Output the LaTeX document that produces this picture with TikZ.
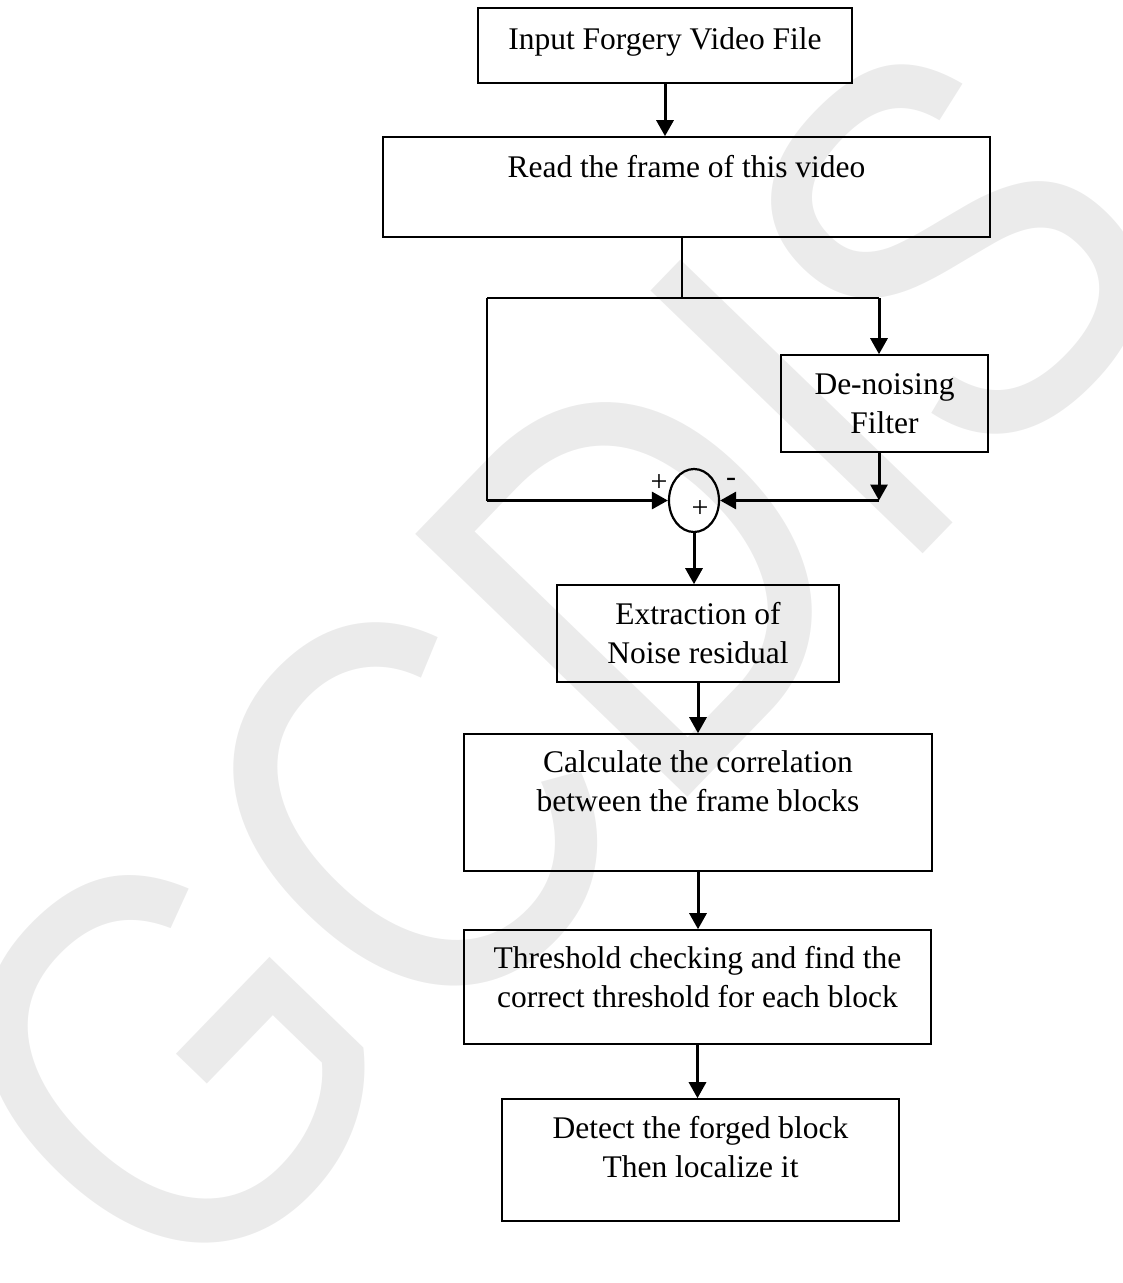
\documentclass[tikz,border=0pt]{standalone}
\usepackage{fontspec}
\setmainfont{Liberation Serif}
\newfontfamily\wmfont{Liberation Sans}
\usetikzlibrary{arrows.meta,shapes.geometric}
\tikzset{
    blk/.style={draw=black, line width=1.6pt, align=center, inner sep=0pt, font=\fontsize{31.5}{39}\selectfont},
    summer/.style={ellipse, draw=black, line width=2.2pt, minimum width=50pt, minimum height=63pt, inner sep=0pt},
    sgn/.style={inner sep=0pt, font=\fontsize{30}{30}\selectfont},
    arr/.style={line width=3pt, -{Triangle[length=16pt,width=17pt]}},
    wire/.style={line width=1.4pt},
    wm/.style={rotate=46, text=black!8, inner sep=0pt, font=\wmfont\fontsize{550}{550}\selectfont}
}
\begin{document}
\begin{tikzpicture}[x=1pt,y=-1pt]
    \useasboundingbox (0,0) rectangle (1123,1283);
    \node[wm] (mark) at (552,665) {\scalebox{0.84}[1]{GCDIS}};

    \node[blk, minimum width=374pt, minimum height=75pt, text depth=14pt] (in) at (665,45.5) {Input Forgery Video File};
    \node[blk, minimum width=607pt, minimum height=100pt] (frame) at (686.5,187) {Read the frame of this video\\[3pt]~};
    \node[blk, minimum width=207pt, minimum height=97pt] (den) at (884.5,403.5) {De-noising\\Filter};
    \node[summer] (sum) at (694,500.5) {};
    \node[sgn] (splus) at (700,509) {+};
    \node[sgn] (plus) at (659,483) {+};
    \node[sgn] (minus) at (731,482) {-};
    \node[blk, minimum width=282pt, minimum height=97pt] (noise) at (698,633.5) {Extraction of\\Noise residual};
    \node[blk, minimum width=468pt, minimum height=137pt] (corr) at (698,802.5) {Calculate the correlation\\between the frame blocks\\[3pt]~};
    \node[blk, minimum width=467pt, minimum height=114pt] (thr) at (697.5,987) {Threshold checking and find the\\correct threshold for each block\\[-19pt]~};
    \node[blk, minimum width=397pt, minimum height=122pt] (det) at (700.5,1160) {Detect the forged block\\Then localize it\\[-12pt]~};

    \coordinate (split) at (682,298);
    \coordinate (lft) at (487,298);
    \coordinate (rgt) at (879,298);

    \draw[arr] (in.south) -- (in.south |- frame.north);
    \draw[wire] (split |- frame.south) -- (split);
    \draw[wire] (lft) -- (rgt);
    \draw[wire] (lft) -- (lft |- sum.west);
    \draw[arr] (lft |- sum.west) -- (sum.west);
    \draw[arr] (rgt) -- (rgt |- den.north);
    \draw[arr] (rgt |- den.south) -- (rgt |- sum.east);
    \draw[arr] (rgt |- sum.east) -- (sum.east);
    \draw[arr] (sum.south) -- (sum.south |- noise.north);
    \draw[arr] (noise.south) -- (noise.south |- corr.north);
    \draw[arr] (corr.south) -- (corr.south |- thr.north);
    \draw[arr] (thr.south) -- (thr.south |- det.north);
\end{tikzpicture}
\end{document}
